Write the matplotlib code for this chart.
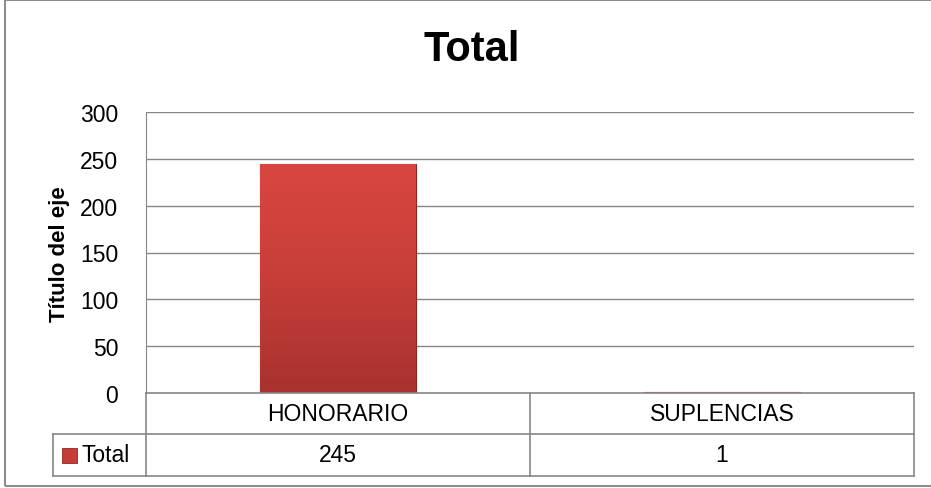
import numpy as np
import matplotlib.pyplot as plt
from matplotlib.patches import Rectangle
from matplotlib.colors import LinearSegmentedColormap

plt.rcParams["font.family"] = ["Liberation Sans", "DejaVu Sans"]

categories = ["HONORARIO", "SUPLENCIAS"]
values = [245, 1]
series_name = "Total"
y_ticks = [0, 50, 100, 150, 200, 250, 300]

grid_color = "#868686"
bar_cmap = LinearSegmentedColormap.from_list("bar", ["#A8322E", "#C73E39", "#D9463F"])

W, H = 931, 489
fig = plt.figure(figsize=(W / 100, H / 100), dpi=100)
# chart border (right edge falls outside the picture)
fig.patches.append(Rectangle((5 / W, 1 - 487 / H), 940 / W, 486 / H, transform=fig.transFigure,
                             fill=False, edgecolor="#8c8c8c", linewidth=1.5))

ax_w, ax_h = 768, 281
ax = fig.add_axes([146 / W, 1 - 394 / H, ax_w / W, ax_h / H])
x = np.arange(len(categories))
ax.set_yticks(y_ticks)
ax.tick_params(axis="y", length=0, labelsize=16.5, pad=20)
ax.set_xticks([])
for y in y_ticks[1:]:
    ax.axhline(y, color=grid_color, linewidth=1.0, zorder=0)
for side in ["top", "right", "bottom"]:
    ax.spines[side].set_visible(False)
ax.spines["left"].set_color(grid_color)

bars = ax.bar(x, values, width=0.405, color="#C43C36", edgecolor="#8E2622", linewidth=0.8, zorder=2)
grad = np.linspace(0, 1, 256).reshape(-1, 1)
for b in bars:
    bx, by = b.get_x(), b.get_y()
    im = ax.imshow(grad, cmap=bar_cmap, aspect="auto", origin="lower", zorder=2.5,
                   extent=[bx, bx + b.get_width(), by, by + b.get_height()])
    im.set_clip_path(b)
ax.set_xlim(-0.5, len(categories) - 0.5)
ax.set_ylim(0, 300)

fig.text(472 / W, 1 - 50 / H, "Total", fontsize=30, fontweight="bold", ha="center", va="center")
fig.text(60 / W, 1 - 254 / H, "Título del eje", fontsize=16, fontweight="bold",
         rotation=90, ha="center", va="center")

# data table under the plot
tr = ax.transAxes
r1 = -41 / ax_h
r2 = -83 / ax_h
left = -93 / ax_w
line_kw = dict(color=grid_color, linewidth=1.2, transform=tr, clip_on=False, zorder=5)
ax.plot([0, 1], [0, 0], **line_kw)
ax.plot([left, 1], [r1, r1], **line_kw)
ax.plot([left, 1], [r2, r2], **line_kw)
ax.plot([0, 0], [0, r2], **line_kw)
ax.plot([0.5, 0.5], [0, r2], **line_kw)
ax.plot([1, 1], [0, r2], **line_kw)
ax.plot([left, left], [r1, r2], **line_kw)
for i, (cat, val) in enumerate(zip(categories, values)):
    cx = (i + 0.5) / len(categories)
    ax.text(cx, r1 / 2, cat, transform=tr, ha="center", va="center", fontsize=16.5)
    ax.text(cx, (r1 + r2) / 2, str(val), transform=tr, ha="center", va="center", fontsize=16.5)
ax.add_patch(Rectangle((-84 / ax_w, (r1 + r2) / 2 - 7.5 / ax_h), 15 / ax_w, 15 / ax_h, transform=tr,
                       clip_on=False, facecolor="#C43C36", edgecolor="#8E2622", linewidth=0.6))
ax.text(-64 / ax_w, (r1 + r2) / 2, series_name, transform=tr, ha="left", va="center", fontsize=16.5)

fig.savefig("out.png", dpi=100)
